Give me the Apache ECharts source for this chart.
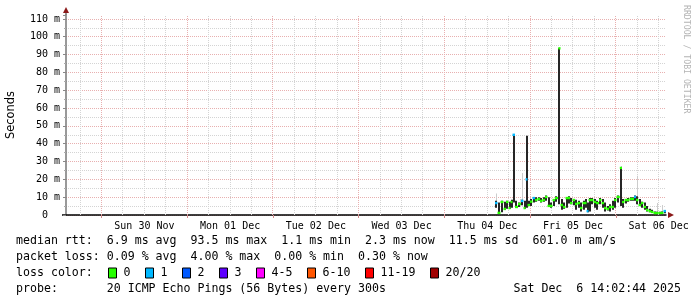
<!DOCTYPE html>
<html><head><meta charset="utf-8">
<script src="https://cdn.jsdelivr.net/npm/echarts@6/dist/echarts.min.js"></script>
<style>html,body{margin:0;padding:0;background:#fff}#c{width:697px;height:297px}</style>
</head><body><div id="c"></div>
<script>
// x values are hours since Sat 29 Nov 00:00
const dayLabels = ['Sun 30 Nov','Mon 01 Dec','Tue 02 Dec','Wed 03 Dec','Thu 04 Dec','Fri 05 Dec','Sat 06 Dec'];
const dayLabelHours = [36, 60, 84, 108, 132, 156, 180];
const majorGridHours = [24, 48, 72, 96, 120, 144, 168];
const minorGridHours = [18, 30, 36, 42, 54, 60, 66, 78, 84, 90, 102, 108, 114, 126, 132, 138, 150, 156, 162, 174, 180];
const xStart = 14.0456, xEnd = 182.0456;
const yMax = 112.2;

const times = [134.17,134.87,135.71,136.55,137.25,137.95,138.51,139.07,139.77,140.61,
141.45,142.15,142.71,143.27,143.97,144.67,145.37,146.07,146.77,147.47,
148.17,148.87,149.57,150.27,150.97,151.89,152.51,153.21,153.91,154.61,
155.17,155.87,156.57,157.27,157.97,158.67,159.37,159.79,160.35,161.05,
161.75,162.45,163.29,163.99,164.69,165.39,166.09,166.79,167.49,168.19,
169.11,169.73,170.43,171.13,171.83,172.53,173.09,173.65,174.35,175.05,
175.75,176.45,177.15,177.85,178.55,179.25,179.95,180.65,181.35];
const endTime = 182.05;
const median = [6.7,1.2,7.3,3.4,7.3,3.9,7.3,45.0,4.5,6.2,
7.9,3.9,20.0,5.6,7.5,9.5,8.4,9.0,7.9,8.4,
10.1,5.1,5.1,8.4,9.5,93.5,5.6,4.5,9.5,9.5,
6.7,8.4,6.2,6.7,3.9,6.7,6.7,2.2,8.4,8.4,
7.3,6.7,8.4,6.7,3.9,3.4,4.5,4.5,8.4,10.1,
26.4,7.3,8.4,8.4,9.0,9.0,10.1,8.4,5.6,6.7,
4.5,2.8,2.2,1.7,1.1,1.1,1.1,1.2,2.2];
const loss = [1,0,0,0,0,0,0,1,0,0,
1,0,1,0,0,1,0,0,0,0,
0,0,0,0,0,0,0,0,0,0,
0,0,0,0,0,0,0,1,0,0,
0,0,0,0,0,0,0,0,0,0,
0,0,0,0,0,0,1,0,0,0,
0,0,0,0,0,0,0,0,1];
const smokeLo = [4.0,1.0,1.5,3.0,3.5,3.5,4.0,7.0,4.0,4.5,
5.5,3.5,4.0,5.0,5.0,7.0,7.5,8.0,7.0,7.5,
8.0,4.5,4.0,5.0,7.5,6.0,3.0,3.5,4.0,6.5,
6.0,5.5,3.0,4.0,2.0,3.0,4.0,1.5,2.0,6.0,
4.0,3.0,6.0,4.0,2.0,2.5,2.0,3.0,4.0,7.0,
5.0,4.0,6.5,7.5,8.0,8.0,8.0,6.0,5.0,4.0,
3.0,2.0,1.5,1.2,0.8,0.8,0.8,0.8,1.0];
const smokeHi = [8.0,7.0,8.0,7.5,8.0,7.5,8.5,45.0,8.0,7.0,
8.5,8.0,44.5,8.0,9.0,10.0,10.0,10.0,9.5,10.0,
11.0,10.0,7.0,9.0,10.5,93.5,9.0,7.0,10.0,10.5,
9.5,9.0,8.5,8.0,7.0,8.0,9.0,7.0,9.5,9.5,
9.0,8.0,9.5,9.0,7.0,5.0,6.0,8.0,9.5,11.0,
26.4,9.0,9.0,9.5,10.0,10.0,11.0,10.5,9.0,7.5,
7.0,5.0,3.5,3.0,2.0,1.8,1.8,2.0,2.2];
const outlier = [12.0,0,0,0,0,0,0,0,0,9.0,
23.5,0,0,0,0,0,0,0,0,0,
0,0,0,0,0,0,0,0,0,0,
0,0,0,0,0,0,0,0,0,0,
0,0,0,0,0,0,0,0,0,0,
27.5,0,0,0,0,0,0,22.0,0,0,
0,0,0,0,0,6.7,0,5.6,0];

const statsLines = [
  'median rtt:  6.9 ms avg  93.5 ms max  1.1 ms min  2.3 ms now  11.5 ms sd  601.0 m am/s',
  'packet loss: 0.09 % avg  4.00 % max  0.00 % min  0.30 % now',
  'loss color:  ',
  'probe:       20 ICMP Echo Pings (56 Bytes) every 300s'
];
const dateText = 'Sat Dec  6 14:02:44 2025';
const lossLegend = ['0','1','2','3','4-5','6-10','11-19','20/20'];
const lossColors = ['#26ff00','#00b8ff','#0059ff','#5e00ff','#ff00ff','#ff5500','#ff0000','#a00000'];

const MONO = 'DejaVu Sans Mono';
const MAJOR_GRID = '#e8b0b0';
const MINOR_GRID = '#d4d4d4';
const chart = echarts.init(document.getElementById('c'), null, {renderer:'canvas'});

function gridLineSeries(hours, color) {
  return {
    type: 'custom', silent: true, z: 1,
    data: hours.map(h => [h, 0]),
    encode: {x: 0, y: 1},
    renderItem: function (params, api) {
      const p0 = api.coord([api.value(0), 0]);
      const p1 = api.coord([api.value(0), yMax]);
      const x = Math.floor(p0[0]) + 0.5;
      return {type: 'line', shape: {x1: x, y1: p0[1], x2: x, y2: p1[1]},
        style: {stroke: color, lineWidth: 1, lineDash: [1, 1]}};
    }
  };
}

const pingData = times.map((t, i) => [t, median[i]]);

const option = {
  backgroundColor: '#ffffff',
  animation: false,
  grid: {left: 66, top: 15, width: 600, height: 200, containLabel: false, outerBoundsMode: 'none'},
  xAxis: {
    type: 'value', min: xStart, max: xEnd,
    splitLine: {show: false},
    axisLine: {show: true, lineStyle: {color: '#000', width: 1.5}},
    axisTick: {show: true, customValues: majorGridHours, length: 3, lineStyle: {color: '#d08a8a'}},
    axisLabel: {
      customValues: dayLabelHours, margin: 6,
      formatter: v => dayLabels[dayLabelHours.indexOf(Math.round(v))] || '',
      fontFamily: MONO, fontSize: 10, color: '#000'
    }
  },
  yAxis: {
    type: 'value', min: 0, max: yMax, interval: 10,
    name: 'Seconds', nameLocation: 'middle', nameGap: 49,
    nameTextStyle: {fontFamily: 'DejaVu Sans', fontSize: 11.4, color: '#000'},
    axisLine: {show: true, lineStyle: {color: '#777', width: 1.5}},
    axisTick: {show: true, length: 3, lineStyle: {color: '#888'}},
    minorTick: {show: true, splitNumber: 2, length: 2, lineStyle: {color: '#aaa'}},
    axisLabel: {
      showMaxLabel: false, margin: 6,
      formatter: v => v === 0 ? '0  ' : (Math.round(v) + ' m'),
      fontFamily: MONO, fontSize: 10, color: '#000'
    },
    splitLine: {show: true, showMaxLine: false, lineStyle: {color: MAJOR_GRID, type: [1, 1], width: 1}},
    minorSplitLine: {show: true, lineStyle: {color: MINOR_GRID, type: [1, 1], width: 1}}
  },
  series: [
    gridLineSeries(minorGridHours, MINOR_GRID),
    gridLineSeries(majorGridHours, MAJOR_GRID),
    {
      type: 'custom', z: 5, clip: true,
      data: pingData,
      encode: {x: 0, y: 1},
      renderItem: function (params, api) {
        const i = params.dataIndex;
        const t0 = times[i];
        const t1 = (i + 1 < times.length) ? times[i + 1] : endTime;
        const children = [];
        if (outlier[i] > 0) {
          const tm = (t0 + t1) / 2;
          const po = api.coord([tm, outlier[i]]);
          const pb = api.coord([tm, smokeLo[i]]);
          children.push({type: 'rect', shape: {x: Math.round(po[0]), y: po[1], width: 1, height: pb[1] - po[1]},
            style: {fill: '#cccccc'}});
        }
        const pl = api.coord([t0, smokeLo[i]]);
        const ph = api.coord([t0, smokeHi[i]]);
        children.push({type: 'rect', shape: {x: Math.round(pl[0]), y: ph[1], width: 2, height: pl[1] - ph[1]},
          style: {fill: '#262626'}});
        const pm0 = api.coord([t0, median[i]]);
        const pm1 = api.coord([t1, median[i]]);
        children.push({type: 'rect', shape: {x: pm0[0], y: pm0[1] - 1.2, width: pm1[0] - pm0[0], height: 2.4},
          style: {fill: lossColors[loss[i]]}});
        return {type: 'group', children: children};
      }
    }
  ]
};
chart.setOption(option);

// decorations and legend text
const g = [];
const origin = chart.convertToPixel({gridIndex: 0}, [xStart, 0]);
const topPt = chart.convertToPixel({gridIndex: 0}, [xStart, yMax]);
const rightPt = chart.convertToPixel({gridIndex: 0}, [xEnd, 0]);
const ax = Math.round(origin[0]);
g.push({type: 'line', shape: {x1: ax, y1: topPt[1], x2: ax, y2: topPt[1] - 3}, style: {stroke: '#777', lineWidth: 1.5}});
g.push({type: 'polygon', shape: {points: [[ax - 3, topPt[1] - 2], [ax + 3, topPt[1] - 2], [ax, topPt[1] - 8]]}, style: {fill: '#8b1a1a'}});
const ay = Math.round(origin[1]);
g.push({type: 'line', shape: {x1: ax - 4, y1: ay, x2: ax, y2: ay}, style: {stroke: '#000', lineWidth: 1.5}});
g.push({type: 'polygon', shape: {points: [[rightPt[0] + 2, ay - 3], [rightPt[0] + 2, ay + 3], [rightPt[0] + 8, ay]]}, style: {fill: '#8b1a1a'}});

const lineY = [241, 257, 273, 289];
statsLines.forEach((s, k) => {
  g.push({type: 'text', x: 16, y: lineY[k], style: {text: s, font: '11.6px "DejaVu Sans Mono"', fill: '#000', textVerticalAlign: 'middle'}});
});
g.push({type: 'text', x: 681, y: lineY[3], style: {text: dateText, font: '11.6px "DejaVu Sans Mono"', fill: '#000', textAlign: 'right', textVerticalAlign: 'middle'}});
let bx = 108.5;
lossLegend.forEach((lab, k) => {
  g.push({type: 'rect', shape: {x: bx, y: lineY[2] - 5, width: 8, height: 10}, style: {fill: lossColors[k], stroke: '#000', lineWidth: 1}});
  g.push({type: 'text', x: bx + 15, y: lineY[2], style: {text: lab, font: '11.6px "DejaVu Sans Mono"', fill: '#000', textVerticalAlign: 'middle'}});
  bx += 15 + 7 * lab.length + 15;
});
g.push({type: 'text', x: 686, y: 5, rotation: -Math.PI / 2,
  style: {text: 'RRDTOOL / TOBI OETIKER', font: '8.2px "DejaVu Sans Mono"', fill: '#b4b4b4', textAlign: 'left', textVerticalAlign: 'middle'}});
chart.setOption({graphic: {elements: g}});
</script>
</body></html>
